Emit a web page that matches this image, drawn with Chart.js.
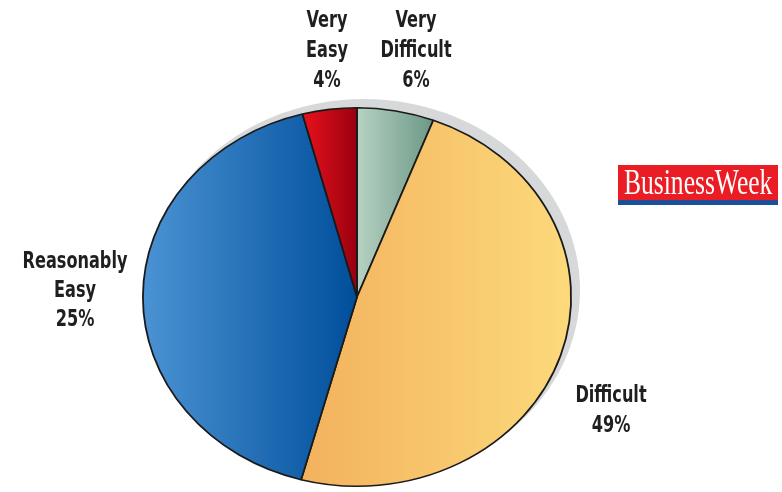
<!DOCTYPE html>
<html>
<head>
    <title>Difficulty pie</title>
    <script src="https://cdn.jsdelivr.net/npm/chart.js"></script>
    <style>
        body { margin: 0; background: #fff; overflow: hidden; }
        #wrap { position: relative; width: 782px; height: 560px; }
    </style>
</head>
<body>
    <div id="wrap"><canvas id="pieChart"></canvas></div>
    <script>
        // categories, clockwise from 12 o'clock
        const categories = ['Very Difficult', 'Difficult', 'Reasonably Easy', 'Very Easy'];
        // slice shares as drawn in the picture (the printed labels do not add up to 100)
        const shares = [5.8, 48.4, 41.7, 4.1];
        // percentages printed next to the slices
        const printedPct = ['6%', '49%', '25%', '4%'];
        const labelLines = [['Very', 'Difficult'], ['Difficult'], ['Reasonably', 'Easy'], ['Very', 'Easy']];

        // styling / layout
        const gradStops = [
            ['#b6d2c3', '#6c9785'],
            ['#f3b15d', '#fcda7b'],
            ['#4b93d3', '#004e9b'],
            ['#ea111d', '#990010']
        ];
        const squash = 190 / 215;   // pie is drawn slightly tilted (elliptical)
        const labelPos = [           // centre x, first baseline
            [416, 27], [611, 402], [75, 268], [327, 27]
        ];
        const lineGap = [30, 30, 29, 30];
        const narrow = 0.78;         // condensed label face

        // x-extent of each sector so every slice gets its own left-to-right gradient
        const sectorExtent = (chart, i) => {
            const a = chart.chartArea;
            const cx = (a.left + a.right) / 2;
            const r = Math.min(a.right - a.left, a.bottom - a.top) / 2;
            const total = shares.reduce((s, v) => s + v, 0);
            let start = -Math.PI / 2;
            for (let k = 0; k < i; k++) start += shares[k] / total * 2 * Math.PI;
            const end = start + shares[i] / total * 2 * Math.PI;
            const xs = [cx, cx + r * Math.cos(start), cx + r * Math.cos(end)];
            [0, Math.PI, 2 * Math.PI].forEach(t => { if (t > start && t < end) xs.push(cx + r * Math.cos(t)); });
            return [Math.min(...xs), Math.max(...xs)];
        };

        const sliceFill = (context) => {
            const chart = context.chart;
            const i = context.dataIndex;
            if (!chart.chartArea) return gradStops[i][0];
            const [x0, x1] = sectorExtent(chart, i);
            const g = chart.ctx.createLinearGradient(x0, 0, x1, 0);
            g.addColorStop(0, gradStops[i][0]);
            g.addColorStop(1, gradStops[i][1]);
            return g;
        };

        const tiltPlugin = {
            id: 'tilt',
            beforeDatasetsDraw(chart) {
                const ctx = chart.ctx;
                const a = chart.chartArea;
                const cx = (a.left + a.right) / 2, cy = (a.top + a.bottom) / 2;
                const r = Math.min(a.right - a.left, a.bottom - a.top) / 2;
                // grey drop shadow behind the upper right of the pie
                ctx.save();
                ctx.fillStyle = '#d7d8da';
                ctx.beginPath();
                ctx.ellipse(cx + 7, cy - 7, r + 1, r * squash + 1, 0, 0, 2 * Math.PI);
                ctx.fill();
                ctx.restore();
                ctx.save();
                ctx.translate(cx, cy);
                ctx.scale(1, squash);
                ctx.translate(-cx, -cy);
            },
            afterDatasetsDraw(chart) {
                chart.ctx.restore();
            },
            afterDraw(chart) {
                const ctx = chart.ctx;
                ctx.save();
                ctx.fillStyle = '#1f1f1f';
                ctx.textAlign = 'center';
                ctx.textBaseline = 'alphabetic';
                ctx.font = 'bold 23px "Liberation Sans Narrow", "DejaVu Sans Condensed", sans-serif';
                categories.forEach((c, i) => {
                    const lines = labelLines[i].concat([printedPct[i]]);
                    const [x, y] = labelPos[i];
                    lines.forEach((t, j) => {
                        ctx.save();
                        ctx.translate(x, y + j * lineGap[i]);
                        ctx.scale(narrow, 1);
                        ctx.fillText(t, 0, 0);
                        ctx.restore();
                    });
                });
                // BusinessWeek logo
                ctx.fillStyle = '#ea1d25';
                ctx.fillRect(618, 165, 160, 36);
                ctx.fillStyle = '#1b4f9a';
                ctx.fillRect(618, 200, 160, 5);
                ctx.fillStyle = '#fff';
                ctx.font = '35px "Liberation Serif", "DejaVu Serif", serif';
                ctx.textAlign = 'left';
                ctx.translate(624, 194);
                ctx.scale(0.73, 1);
                ctx.fillText('BusinessWeek', 0, 0);
                ctx.restore();
            }
        };

        new Chart(document.getElementById('pieChart'), {
            type: 'pie',
            data: {
                labels: categories,
                datasets: [{
                    data: shares,
                    backgroundColor: sliceFill,
                    borderColor: '#1a1a1a',
                    borderWidth: 1.8
                }]
            },
            options: {
                responsive: true,
                maintainAspectRatio: false,
                animation: false,
                layout: { padding: { left: 142, right: 210, top: 82, bottom: 48 } },
                plugins: { legend: { display: false }, tooltip: { enabled: false } }
            },
            plugins: [tiltPlugin]
        });
    </script>
</body>
</html>
